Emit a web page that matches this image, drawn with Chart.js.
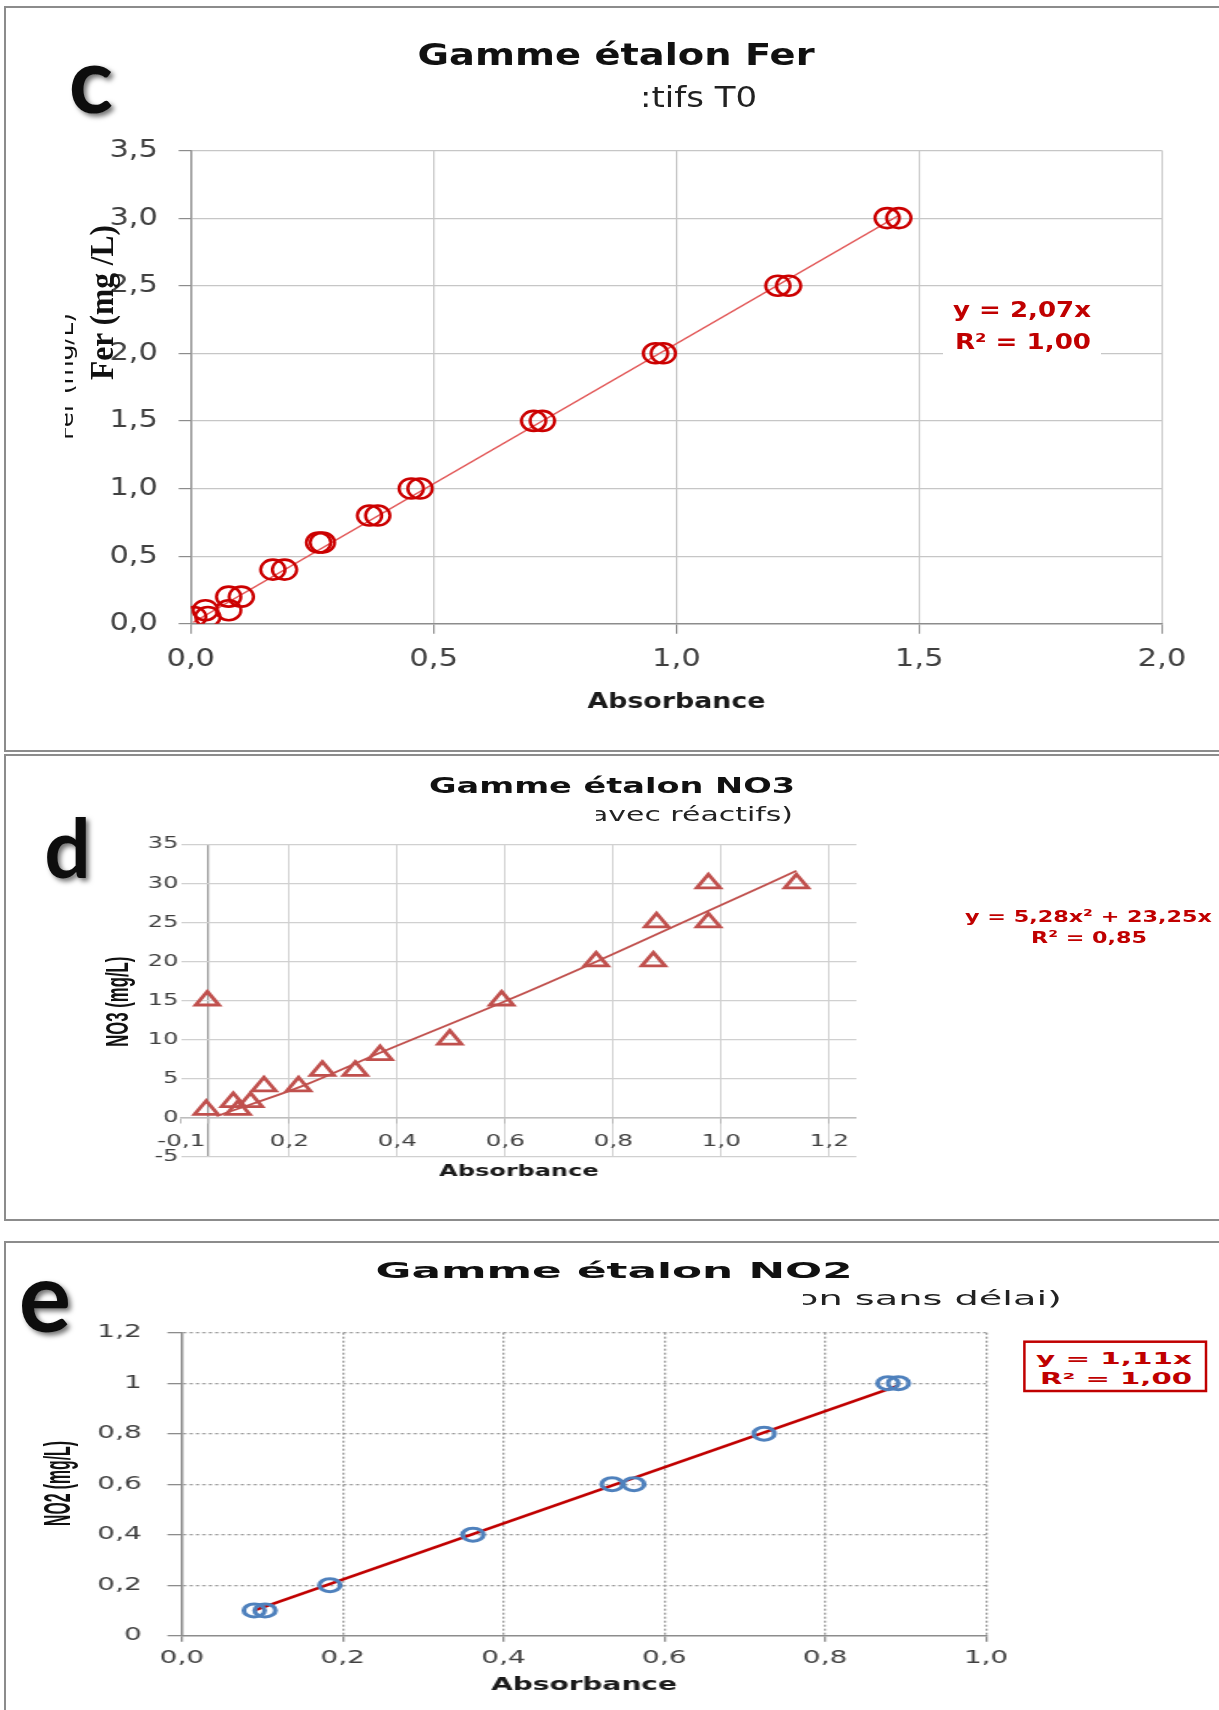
<!DOCTYPE html>
<html>
<head>
<meta charset="utf-8">
<title>Gammes étalon Fer, NO3, NO2</title>
<script src="https://cdn.jsdelivr.net/npm/chart.js"></script>
<style>
  html, body { margin: 0; padding: 0; background: #fff; }
  body { position: relative; width: 1219px; height: 1710px; overflow: hidden; }
  .panel { position: absolute; left: 4px; width: 1240px; box-sizing: border-box; border: 2px solid #8c8c8c; }
  .stage { position: absolute; left: 0; transform-origin: 0 0; }
  .stage canvas { position: absolute; left: 0; top: 0; }
  #overlay { position: absolute; left: 0; top: 0; }
  .ttl { font-family: 'DejaVu Sans', sans-serif; font-weight: bold; fill: #111; }
  .sub { font-family: 'DejaVu Sans', sans-serif; fill: #222; }
  .eq { font-family: 'DejaVu Sans', sans-serif; font-weight: bold; fill: #c00000; }
  .big { font-family: Lato, 'Open Sans', sans-serif; font-weight: bold; fill: #111; }
  .ytl { font-family: 'Liberation Sans Narrow', 'Liberation Sans', sans-serif; font-weight: bold; fill: #111; }
</style>
</head>
<body>

<div class="panel" style="top:6px;height:746px"></div>
<div class="panel" style="top:754px;height:467px"></div>
<div class="panel" style="top:1241px;height:520px"></div>

<div class="stage" id="stageFer"><canvas id="ferChart"></canvas></div>
<div class="stage" id="stageNo3"><canvas id="no3Chart"></canvas></div>
<div class="stage" id="stageNo2"><canvas id="no2Chart"></canvas></div>

<svg id="overlay" width="1219" height="1710" xmlns="http://www.w3.org/2000/svg">
  <defs>
    <filter id="shadow" x="-40%" y="-40%" width="180%" height="180%">
      <feDropShadow dx="3" dy="3" stdDeviation="2.5" flood-color="#000" flood-opacity="0.55"/>
    </filter>
  </defs>

  <!-- c : Fer -->
  <text class="ttl" x="417.6" y="65" font-size="30" textLength="397" lengthAdjust="spacingAndGlyphs">Gamme étalon Fer</text>
  <text class="sub" x="640" y="106.7" font-size="29" textLength="117" lengthAdjust="spacingAndGlyphs">:tifs T0</text>
  <text class="big" x="91" y="113" font-size="92" text-anchor="middle" filter="url(#shadow)">c</text>
  <text class="sub" transform="translate(73,440) rotate(-90)" font-size="22" textLength="127" lengthAdjust="spacingAndGlyphs" style="fill:#111">Fer (mg/L)</text>
  <rect x="8" y="300" width="57" height="150" fill="#fff"/>
  <text transform="translate(113,380) rotate(-90)" font-family="'Liberation Serif', serif" font-weight="bold" font-size="34" textLength="155" lengthAdjust="spacingAndGlyphs" fill="#111">Fer (mg /L)</text>
  <rect x="943" y="290" width="158" height="66" fill="#fff"/>
  <text class="eq" x="953" y="316.7" font-size="21" textLength="138" lengthAdjust="spacingAndGlyphs">y = 2,07x</text>
  <text class="eq" x="955" y="349.3" font-size="21" textLength="136" lengthAdjust="spacingAndGlyphs">R² = 1,00</text>

  <!-- d : NO3 -->
  <text class="ttl" x="429" y="793.3" font-size="21" textLength="366" lengthAdjust="spacingAndGlyphs">Gamme étalon NO3</text>
  <text class="sub" x="590" y="820.7" font-size="20" textLength="203" lengthAdjust="spacingAndGlyphs">avec réactifs)</text>
  <rect x="580" y="800" width="16" height="26" fill="#fff"/>
  <text class="big" x="67.5" y="878" font-size="82" text-anchor="middle" filter="url(#shadow)">d</text>
  <text class="ytl" transform="translate(128,1046.7) rotate(-90)" font-size="31" textLength="90" lengthAdjust="spacingAndGlyphs">NO3 (mg/L)</text>
  <text class="eq" x="965" y="921.7" font-size="16.5" textLength="247" lengthAdjust="spacingAndGlyphs">y = 5,28x² + 23,25x</text>
  <text class="eq" x="1031" y="943.3" font-size="16.5" textLength="116" lengthAdjust="spacingAndGlyphs">R² = 0,85</text>

  <!-- e : NO2 -->
  <text class="ttl" x="375.6" y="1278.3" font-size="21" textLength="477" lengthAdjust="spacingAndGlyphs">Gamme étalon NO2</text>
  <text class="sub" x="795" y="1305" font-size="20" textLength="267" lengthAdjust="spacingAndGlyphs">on sans délai)</text>
  <rect x="783" y="1285" width="20" height="26" fill="#fff"/>
  <text class="big" x="45" y="1332" font-size="98" text-anchor="middle" filter="url(#shadow)">e</text>
  <text class="ytl" transform="translate(69.5,1526) rotate(-90)" font-size="36" textLength="85" lengthAdjust="spacingAndGlyphs">NO2 (mg/L)</text>
  <rect x="1024.4" y="1341.7" width="181.6" height="49.3" fill="#fff" stroke="#c00000" stroke-width="2.5"/>
  <text class="eq" x="1036" y="1363.5" font-size="16" textLength="156" lengthAdjust="spacingAndGlyphs">y = 1,11x</text>
  <text class="eq" x="1040" y="1384" font-size="16" textLength="152" lengthAdjust="spacingAndGlyphs">R² = 1,00</text>
</svg>

<script>
// ---------- c : Gamme étalon Fer ----------
const ferAbs  = [0.006, 0.030, 0.035, 0.078, 0.078, 0.104, 0.169, 0.193, 0.263, 0.271, 0.368,
                 0.385, 0.454, 0.472, 0.706, 0.724, 0.957, 0.973, 1.209, 1.231, 1.434, 1.458];
const ferConc = [0.05, 0.10, 0.05, 0.10, 0.20, 0.20, 0.40, 0.40, 0.60, 0.60, 0.80,
                 0.80, 1.00, 1.00, 1.50, 1.50, 2.00, 2.00, 2.50, 2.50, 3.00, 3.00];
const ferFitAbs  = [0.005, 1.458];
const ferFitConc = [0.01, 3.02];
const ferXTicks  = [0, 0.5, 1.0, 1.5, 2.0];
const ferXLabels = ['0,0', '0,5', '1,0', '1,5', '2,0'];
const ferYTicks  = [0, 0.5, 1.0, 1.5, 2.0, 2.5, 3.0, 3.5];
const ferYLabels = ['0,0', '0,5', '1,0', '1,5', '2,0', '2,5', '3,0', '3,5'];

// ---------- d : Gamme étalon NO3 ----------
const no3Abs  = [0.048, 0.046, 0.096, 0.105, 0.128, 0.153, 0.217, 0.261, 0.322,
                 0.368, 0.497, 0.593, 0.768, 0.874, 0.880, 0.976, 0.976, 1.139];
const no3Conc = [15, 1, 2, 1, 2, 4, 4, 6, 6, 8, 10, 15, 20, 20, 25, 25, 30, 30];
const no3FitAbs  = [0.065, 0.226, 0.368, 0.596, 0.769, 0.973, 1.139];
const no3FitConc = [0.2, 4.1, 8.3, 14.8, 20.0, 26.4, 31.6];
const no3XTicks  = [0, 0.05, 0.2, 0.4, 0.6, 0.8, 1.0, 1.2];
const no3XLabels = ['-0,1', '', '0,2', '0,4', '0,6', '0,8', '1,0', '1,2'];
const no3YTicks  = [-5, 0, 5, 10, 15, 20, 25, 30, 35];
const no3YLabels = ['-5', '0', '5', '10', '15', '20', '25', '30', '35'];

// ---------- e : Gamme étalon NO2 ----------
const no2Abs  = [0.090, 0.1035, 0.184, 0.362, 0.535, 0.562, 0.724, 0.878, 0.891];
const no2Conc = [0.1, 0.1, 0.2, 0.4, 0.6, 0.6, 0.8, 1.0, 1.0];
const no2FitAbs  = [0.09, 0.891];
const no2FitConc = [0.10, 0.99];
const no2XTicks  = [0, 0.2, 0.4, 0.6, 0.8, 1.0];
const no2XLabels = ['0,0', '0,2', '0,4', '0,6', '0,8', '1,0'];
const no2YTicks  = [0, 0.2, 0.4, 0.6, 0.8, 1.0, 1.2];
const no2YLabels = ['0', '0,2', '0,4', '0,6', '0,8', '1', '1,2'];

Chart.defaults.font.family = "'DejaVu Sans', 'Liberation Sans', sans-serif";
Chart.defaults.color = '#404040';

const pts = (xs, ys) => xs.map((x, i) => ({ x: x, y: ys[i] }));
const fixedTicks = values => scale => { scale.ticks = values.map(v => ({ value: v })); };
const noise = { legend: { display: false }, tooltip: { enabled: false } };

// the original picture is stretched sideways, so each chart is drawn narrow and scaled in x
function stage(stageId, canvasId, sx, top, height) {
  const st = document.getElementById(stageId);
  const cv = document.getElementById(canvasId);
  const w = Math.round(1219 / sx);
  st.style.top = top + 'px';
  st.style.width = w + 'px';
  st.style.height = height + 'px';
  st.style.transform = 'scaleX(' + sx + ')';
  cv.width = w;
  cv.height = height;
  return { canvas: cv, w: w };
}

// =====================================================
// c : Fer   (page chart area 190.8..1162 x 150.5..623.7)
// =====================================================
const sc = stage('stageFer', 'ferChart', 1.22, 8, 742);
new Chart(sc.canvas, {
  type: 'scatter',
  data: {
    datasets: [{
      data: pts(ferAbs, ferConc),
      pointStyle: 'circle',
      pointRadius: 10,
      pointBorderWidth: 2.6,
      pointBorderColor: '#cc0000',
      pointBackgroundColor: 'rgba(0,0,0,0)',
      showLine: false
    }, {
      data: pts(ferFitAbs, ferFitConc),
      showLine: true,
      borderColor: '#e25858',
      borderWidth: 1.3,
      pointRadius: 0
    }]
  },
  options: {
    responsive: false, animation: false, events: [],
    layout: { padding: { left: 0, top: 142.5, right: sc.w - 1162 / 1.22, bottom: 742 - (623.7 - 8) - 100 } },
    plugins: noise,
    scales: {
      x: {
        type: 'linear', min: 0, max: 2,
        afterBuildTicks: fixedTicks(ferXTicks),
        afterFit: s => { s.height = 100; },
        grid: { color: c => c.tick && c.tick.value === 0 ? 'rgba(0,0,0,0)' : '#c6c6c6', lineWidth: 1.2, tickLength: 10, tickColor: '#8c8c8c' },
        border: { color: '#8c8c8c', width: 1.5 },
        ticks: { callback: (v, i) => ferXLabels[i], padding: 11, font: { size: 25 }, maxRotation: 0, autoSkip: false },
        title: { display: true, text: 'Absorbance', color: '#1a1a1a', font: { size: 22, weight: 'bold' }, padding: { top: 0, bottom: 8.1 } }
      },
      y: {
        type: 'linear', min: 0, max: 3.5,
        afterBuildTicks: fixedTicks(ferYTicks),
        afterFit: s => { s.width = 190.8 / 1.22; },
        grid: { color: c => c.tick && c.tick.value === 0 ? 'rgba(0,0,0,0)' : '#c6c6c6', lineWidth: 1.2, tickLength: 10, tickColor: '#8c8c8c' },
        border: { color: '#8c8c8c', width: 1.5 },
        ticks: { callback: (v, i) => ferYLabels[i], padding: 17, font: { size: 25 }, autoSkip: false }
      }
    }
  }
});

// =====================================================
// d : NO3   (page chart area 181.4..856.4 x 844.3..1156.7)
// =====================================================
const sd = stage('stageNo3', 'no3Chart', 1.5, 757, 460);
new Chart(sd.canvas, {
  type: 'scatter',
  data: {
    datasets: [{
      data: pts(no3Abs, no3Conc),
      pointStyle: 'triangle',
      pointRadius: 9,
      pointBorderWidth: 2.8,
      pointBorderColor: '#c0504d',
      pointBackgroundColor: 'rgba(0,0,0,0)',
      showLine: false
    }, {
      data: pts(no3FitAbs, no3FitConc),
      showLine: true,
      tension: 0.3,
      cubicInterpolationMode: 'monotone',
      borderColor: '#c0504d',
      borderWidth: 1.8,
      pointRadius: 0
    }]
  },
  options: {
    responsive: false, animation: false, events: [],
    layout: { padding: { left: 0, top: 844.3 - 757, right: sd.w - 856.4 / 1.5, bottom: 1217 - 1156.7 } },
    plugins: noise,
    scales: {
      x: {
        type: 'linear', min: 0, max: 1.25,
        position: { y: 0 },
        afterBuildTicks: fixedTicks(no3XTicks),
        afterFit: s => { s.height = 64; },
        grid: {
          color: c => {
            if (!c.tick) return '#d0d0d0';
            if (c.tick.value === 0) return 'rgba(0,0,0,0)';
            return c.tick.value === 0.05 ? '#9a9a9a' : '#d0d0d0';
          },
          lineWidth: c => c.tick && c.tick.value === 0.05 ? 1.3 : 1,
          tickLength: 5, tickColor: '#b5b5b5'
        },
        border: { color: '#bdbdbd', width: 1.5 },
        ticks: { callback: (v, i) => no3XLabels[i], padding: 9, font: { size: 16.5 }, maxRotation: 0, autoSkip: false },
        title: { display: true, text: 'Absorbance', color: '#1a1a1a', font: { size: 16, weight: 'bold' }, padding: { top: 0, bottom: 0.3 } }
      },
      y: {
        type: 'linear', min: -5, max: 35,
        afterBuildTicks: fixedTicks(no3YTicks),
        afterFit: s => { s.width = 181.4 / 1.5; },
        grid: { color: '#d0d0d0', lineWidth: 1.2, drawTicks: false },
        border: { display: false },
        ticks: { callback: (v, i) => no3YLabels[i], padding: 2, font: { size: 16 }, autoSkip: false }
      }
    }
  }
});

// =====================================================
// e : NO2   (page chart area 181.9..986.1 x 1332.7..1635.7)
// =====================================================
const se = stage('stageNo2', 'no2Chart', 1.6, 1244, 466);
new Chart(se.canvas, {
  type: 'scatter',
  data: {
    datasets: [{
      data: pts(no2Abs, no2Conc),
      pointStyle: 'circle',
      pointRadius: 6.5,
      pointBorderWidth: 3,
      pointBorderColor: '#4f81bd',
      pointBackgroundColor: 'rgba(0,0,0,0)',
      showLine: false
    }, {
      data: pts(no2FitAbs, no2FitConc),
      showLine: true,
      borderColor: '#c00000',
      borderWidth: 2.6,
      pointRadius: 0
    }]
  },
  options: {
    responsive: false, animation: false, events: [],
    layout: { padding: { left: 0, top: 1332.7 - 1244, right: se.w - 986.1 / 1.6, bottom: 0 } },
    plugins: noise,
    scales: {
      x: {
        type: 'linear', min: 0, max: 1.0,
        afterBuildTicks: fixedTicks(no2XTicks),
        afterFit: s => { s.height = 1710 - 1635.7; },
        grid: { color: c => c.tick && c.tick.value === 0 ? 'rgba(0,0,0,0)' : '#9a9a9a', lineWidth: 1.3, tickLength: 6, tickColor: '#8c8c8c' },
        border: { color: '#8c8c8c', width: 1.5, dash: [2, 2] },
        ticks: { callback: (v, i) => no2XLabels[i], padding: 6.7, font: { size: 17.5 }, maxRotation: 0, autoSkip: false },
        title: { display: true, text: 'Absorbance', color: '#1a1a1a', font: { size: 17.5, weight: 'bold' }, padding: { top: 0, bottom: 13.9 } }
      },
      y: {
        type: 'linear', min: 0, max: 1.2,
        afterBuildTicks: fixedTicks(no2YTicks),
        afterFit: s => { s.width = 181.9 / 1.6; },
        grid: { color: c => c.tick && c.tick.value === 0 ? 'rgba(0,0,0,0)' : '#9a9a9a', lineWidth: 1.3, tickLength: 9, tickColor: '#8c8c8c' },
        border: { color: '#8c8c8c', width: 1.5, dash: [2, 2] },
        ticks: { callback: (v, i) => no2YLabels[i], padding: 16, font: { size: 17.5 }, autoSkip: false }
      }
    }
  }
});
</script>
</body>
</html>
